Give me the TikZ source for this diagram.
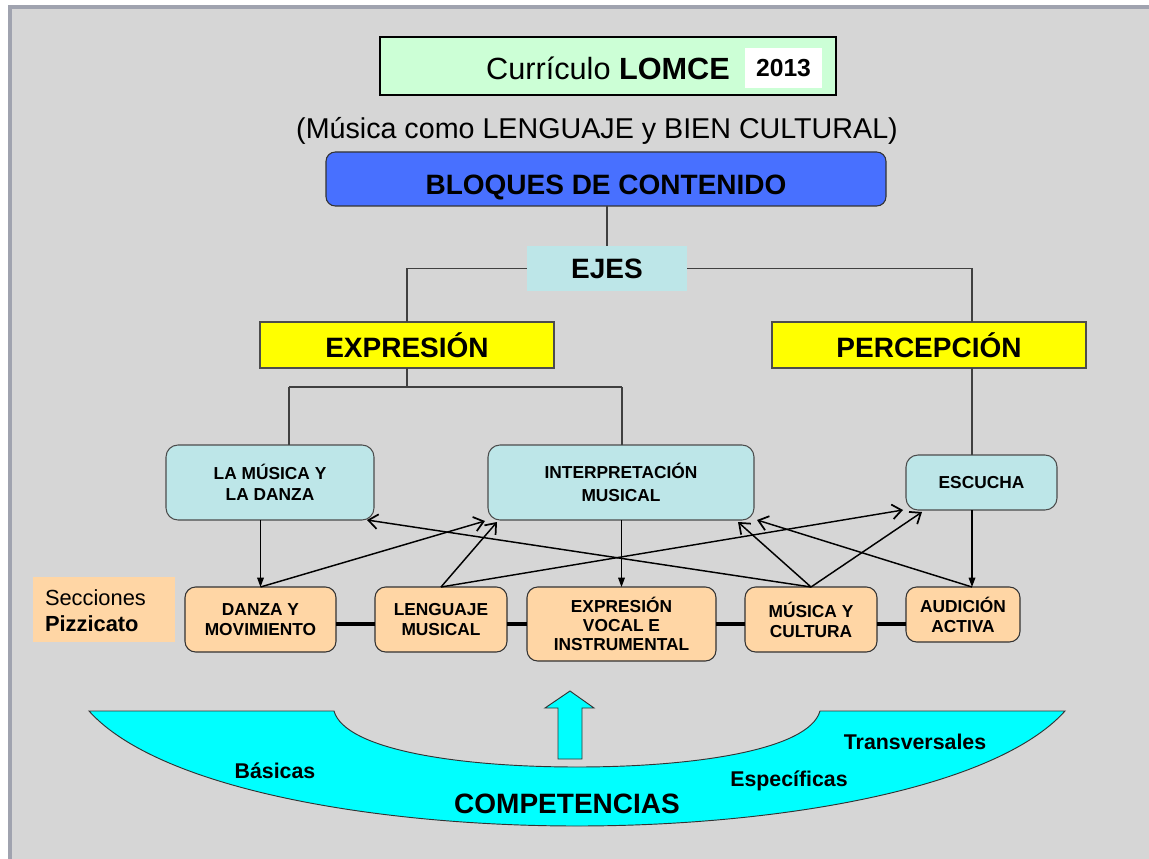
\documentclass[tikz,border=0pt]{standalone}
\usepackage{fontspec}
\setmainfont{Liberation Sans}
\usetikzlibrary{arrows.meta,calc}
\definecolor{bgray}{RGB}{214,214,214}
\definecolor{framec}{RGB}{160,163,175}
\definecolor{mint}{RGB}{204,255,214}
\definecolor{bblue}{RGB}{72,112,255}
\definecolor{lcyan}{RGB}{189,230,232}
\definecolor{yel}{RGB}{255,255,0}
\definecolor{peach}{RGB}{255,214,165}
\definecolor{aqua}{RGB}{0,255,255}
\begin{document}
\begin{tikzpicture}[x=0.75pt,y=-0.75pt,
 every node/.style={inner sep=0pt, outer sep=0pt},
 head/.style={font=\fontsize{21}{25}\selectfont\bfseries},
 small/.style={font=\fontsize{13}{16}\selectfont\bfseries, align=center},
 upbox/.style={draw=black!70, fill=lcyan, rounded corners=9pt, line width=0.8pt},
 lowbox/.style={draw=black!80, fill=peach, rounded corners=8pt, line width=0.8pt},
 conn/.style={draw=black!75, line width=0.8pt},
 cross/.style={draw=black, line width=1.1pt, -{Straight Barb[length=7pt,width=11pt,line width=1.3pt]}},
 downarr/.style={draw=black, line width=0.9pt, -{Triangle[length=7pt,width=5pt]}},
 link/.style={draw=black, line width=2.4pt},
 comp/.style={font=\fontsize{16}{19}\selectfont\bfseries},
]
\useasboundingbox (0,0) rectangle (1149,859);
\fill[white] (0,0) rectangle (1149,859);
\fill[bgray] (10,7) rectangle (1149,859);
\draw[draw=framec, line width=2.5pt] (10,859) -- (10,7) -- (1149,7);

% title
\node[draw=black, line width=2.2pt, fill=mint, minimum width=342pt, minimum height=43.5pt] (title) at (608,66) {};
\node[font=\fontsize{23}{27}\selectfont] (titletext) at (608,68) {Currículo \textbf{LOMCE}};
\node[fill=white, minimum width=57.75pt, minimum height=30pt, font=\fontsize{18.5}{22}\selectfont\bfseries] (year) at (783.5,68) {2013};

\node[font=\fontsize{21.5}{26}\selectfont] (sub) at (597,131) {(Música como LENGUAJE y BIEN CULTURAL)};

% bloques
\node[draw=black!80, fill=bblue, rounded corners=7pt, line width=0.8pt, minimum width=420pt, minimum height=40.5pt, head, text height=24pt, text depth=0pt] (bloques) at (606,179) {BLOQUES DE CONTENIDO};
\node[fill=lcyan, minimum width=120pt, minimum height=33.75pt, head] (ejes) at (607,268.5) {EJES};
\node[draw=black!70, fill=yel, line width=0.8pt, minimum width=220.5pt, minimum height=34.5pt, head] (expr) at (407,345) {EXPRESIÓN};
\node[draw=black!70, fill=yel, line width=0.8pt, minimum width=235.5pt, minimum height=34.5pt, head] (perc) at (929,345) {PERCEPCIÓN};

% upper boxes
\node[upbox, small, minimum width=156pt, minimum height=56.25pt, font=\fontsize{13}{15.75}\selectfont\bfseries] (lamusica) at (270,482.5) {LA MÚSICA Y\\LA DANZA};
\node[upbox, small, minimum width=199.5pt, minimum height=56.25pt, font=\fontsize{13}{17.25}\selectfont\bfseries] (interp) at (621,482.5) {INTERPRETACIÓN\\MUSICAL};
\node[upbox, small, minimum width=113.25pt, minimum height=41.25pt] (escucha) at (981.5,482.5) {ESCUCHA};

% lower boxes
\node[fill=peach, minimum width=106.5pt, minimum height=48.75pt] (secc) at (104,609.5) {};
\node[anchor=west, align=left, font=\fontsize{16.4}{19.5}\selectfont] (secctext) at (45,611) {Secciones\\\textbf{Pizzicato}};
\node[lowbox, small, minimum width=113.25pt, minimum height=48.75pt, font=\fontsize{13}{15}\selectfont\bfseries] (danza) at (260.5,619.5) {DANZA Y\\MOVIMIENTO};
\node[lowbox, small, minimum width=99pt, minimum height=48.75pt, font=\fontsize{13}{15}\selectfont\bfseries] (lenguaje) at (441,619.5) {LENGUAJE\\MUSICAL};
\node[lowbox, small, minimum width=141.75pt, minimum height=55.5pt, font=\fontsize{13}{14.25}\selectfont\bfseries] (evi) at (621.5,624) {EXPRESIÓN\\VOCAL E\\INSTRUMENTAL};
\node[lowbox, small, minimum width=99pt, minimum height=48.75pt, font=\fontsize{13}{15}\selectfont\bfseries] (mycult) at (811,619.5) {MÚSICA Y\\CULTURA};
\node[lowbox, small, minimum width=85.5pt, minimum height=41.25pt, font=\fontsize{13}{15}\selectfont\bfseries] (audicion) at (963,614.5) {AUDICIÓN\\ACTIVA};

% tree connectors
\coordinate (pline) at (972,0);
\coordinate (jl) at (289,387);
\coordinate (jr) at (622,387);
\coordinate (row) at (0,624);
\draw[conn] (ejes.north) -- (ejes.north |- bloques.south);
\draw[conn] (ejes.west) -| (expr.north);
\draw[conn] (ejes.east) -| (perc.north -| pline);
\draw[conn] (expr.south) -- (expr.south |- jl);
\draw[conn] (jl) -- (jr);
\draw[conn] (jl) -- (jl |- lamusica.north);
\draw[conn] (jr) -- (jr |- interp.north);
\draw[conn] (perc.south -| pline) -- (escucha.north -| pline);

% vertical arrows
\draw[downarr] (danza.north |- lamusica.south) -- (danza.north);
\draw[downarr] (evi.north |- interp.south) -- (evi.north);
\draw[downarr] (escucha.south -| pline) -- (audicion.north -| pline);

% cross arrows
\draw[cross] (danza.north) -- ($(interp.south west)+(-3,1)$);
\draw[cross] (lenguaje.north) -- ($(interp.south west)+(9,2)$);
\draw[cross] (mycult.north) -- ($(lamusica.south east)+(-7,0)$);
\draw[cross] (lenguaje.north) -- ($(escucha.south west)+(-3,0)$);
\draw[cross] (mycult.north) -- ($(interp.south east)+(-16,2)$);
\draw[cross] (mycult.north) -- ($(escucha.south west)+(16,2)$);
\draw[cross] (audicion.north -| pline) -- ($(interp.south east)+(3,0)$);

% links
\draw[link] (danza.east |- row) -- (lenguaje.west |- row);
\draw[link] (lenguaje.east |- row) -- (evi.west |- row);
\draw[link] (evi.east |- row) -- (mycult.west |- row);
\draw[link] (mycult.east |- row) -- (audicion.west |- row);

% competencias
\draw[fill=aqua, draw=black!80, line width=0.7pt]
 (89,711) -- (334,711) .. controls (345,750) and (460,767) .. (577,767)
 .. controls (694,767) and (809,750) .. (820,711) -- (1065,711)
 .. controls (994,790) and (774,826) .. (577,826)
 .. controls (380,826) and (160,790) .. (89,711) -- cycle;
\draw[fill=aqua, draw=black!80, line width=0.7pt]
 (558,759) -- (558,708) -- (545,708) -- (570,691) -- (594,708) -- (582,708) -- (582,759) -- cycle;
\node[comp] (basicas) at (275,771) {Básicas};
\node[comp] (transv) at (915,742) {Transversales};
\node[comp] (especif) at (789,781) {Específicas};
\node[head] (competencias) at (567,804) {COMPETENCIAS};
\end{tikzpicture}
\end{document}
